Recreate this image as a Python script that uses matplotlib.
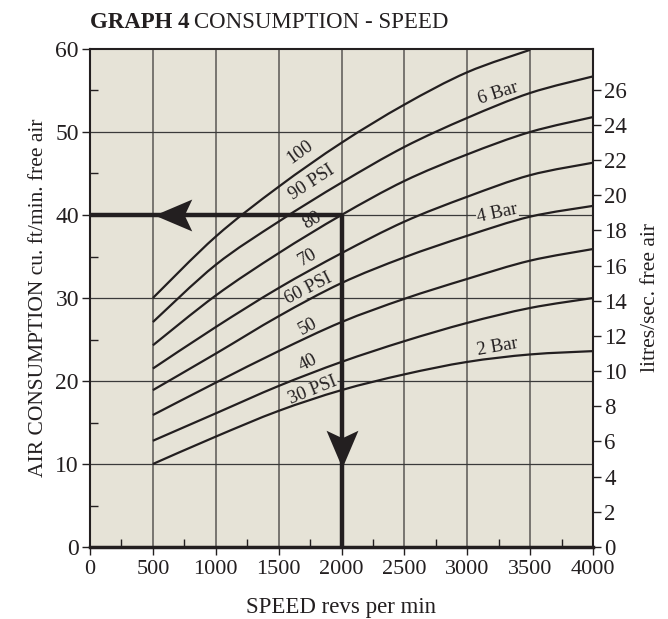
import matplotlib
matplotlib.use("Agg")
import matplotlib.pyplot as plt
from matplotlib.path import Path
from matplotlib.patches import PathPatch
import numpy as np

plt.rcParams['font.family'] = ['Liberation Serif', 'DejaVu Serif']

# speed in rev/min, air consumption in cu. ft/min free air
speeds = [500, 1000, 1500, 2000, 2500, 3000, 3500, 4000]
psi_100 = [30.0, 37.4, 43.4, 48.7, 53.3, 57.2, 59.9, np.nan]
psi_90 = [27.1, 34.0, 39.2, 43.9, 48.2, 51.7, 54.7, 56.7]
psi_80 = [24.3, 30.3, 35.4, 40.0, 44.1, 47.3, 50.0, 51.8]
psi_70 = [21.5, 26.5, 31.2, 35.4, 39.2, 42.2, 44.8, 46.3]
psi_60 = [18.9, 23.3, 27.8, 31.8, 34.9, 37.5, 39.8, 41.1]
psi_50 = [15.9, 19.8, 23.6, 27.1, 29.9, 32.3, 34.5, 35.9]
psi_40 = [12.8, 16.1, 19.4, 22.3, 24.8, 27.0, 28.8, 30.0]
psi_30 = [10.0, 13.3, 16.4, 18.9, 20.8, 22.3, 23.2, 23.6]
curves = [psi_100, psi_90, psi_80, psi_70, psi_60, psi_50, psi_40, psi_30]

# curve labels: text, speed, cfm, angle
curve_labels = [("100", 1670, 47.6, 36), ("90 PSI", 1760, 43.9, 33),
                ("80", 1765, 39.4, 30), ("70", 1734, 34.9, 30),
                ("60 PSI", 1734, 31.2, 27), ("50", 1734, 26.5, 28),
                ("40", 1734, 22.2, 27), ("30 PSI", 1775, 18.9, 22),
                ("6 Bar", 3245, 54.7, 18), ("4 Bar", 3237, 40.2, 12),
                ("2 Bar", 3237, 24.1, 10)]

# worked example: 2000 rpm needs 40 cfm
example_speed = 2000
example_flow = 40

cfm_to_ls = 0.4719
bg = "#e6e3d7"
ink = "#231f20"


def smooth_path(xs, ys):
    # catmull-rom through the read points, drawn as bezier segments
    pts = np.array([(x, y) for x, y in zip(xs, ys) if not np.isnan(y)])
    verts = [pts[0]]
    codes = [Path.MOVETO]
    n = len(pts)
    for i in range(n - 1):
        p0 = pts[max(i - 1, 0)]
        p1 = pts[i]
        p2 = pts[i + 1]
        p3 = pts[min(i + 2, n - 1)]
        verts += [p1 + (p2 - p0) / 6, p2 - (p3 - p1) / 6, p2]
        codes += [Path.CURVE4] * 3
    return Path(verts, codes)


fig = plt.figure(figsize=(6.68, 6.19), dpi=100)
ax = fig.add_axes([90 / 668, 1 - 547 / 619, 503 / 668, 498 / 619])
ax.set_facecolor(bg)
ax.set_xlim(0, 4000)
ax.set_ylim(0, 60)

for x in range(500, 4000, 500):
    ax.axvline(x, color="#777570", lw=1.4, zorder=1)
for y in range(10, 60, 10):
    ax.axhline(y, color="#3a3a3a", lw=0.9, zorder=1)

for c in curves:
    ax.add_patch(PathPatch(smooth_path(speeds, c), facecolor="none",
                           edgecolor=ink, lw=1.6, zorder=3))

for txt, sx, sy, rot in curve_labels:
    ax.text(sx, sy, txt, rotation=rot, rotation_mode="anchor", fontsize=13.5,
            ha="center", va="center", color=ink, zorder=2,
            bbox=dict(facecolor=bg, edgecolor="none", pad=0.3))

# example arrows
ax.plot([0, example_speed], [example_flow, example_flow], color=ink, lw=3.2,
        zorder=4, solid_capstyle="butt", clip_on=False)
ax.plot([example_speed, example_speed], [example_flow, 0], color=ink, lw=3.2,
        zorder=4, solid_capstyle="butt", clip_on=False)
head = Path([(-1, 0), (1, 0.85), (0.6, 0), (1, -0.85), (-1, 0)],
            [Path.MOVETO, Path.LINETO, Path.LINETO, Path.LINETO, Path.CLOSEPOLY])
down_head = Path([(0, -1), (0.85, 1), (0, 0.6), (-0.85, 1), (0, -1)],
                 [Path.MOVETO, Path.LINETO, Path.LINETO, Path.LINETO, Path.CLOSEPOLY])
ax.plot([660], [example_flow], marker=head, markersize=27, color=ink, mew=0, zorder=5)
ax.plot([example_speed], [11.8], marker=down_head, markersize=27, color=ink, mew=0, zorder=5)

ax.set_xticks(range(0, 4001, 500))
ax.set_xticks(range(250, 4000, 500), minor=True)
ax.set_yticks(range(0, 61, 10))
ax.set_yticks(range(5, 60, 10), minor=True)
ax.tick_params(axis="both", which="major", direction="out", length=6, width=1,
               color=ink, labelcolor=ink)
ax.tick_params(axis="x", which="major", labelsize=16, pad=3)
ax.tick_params(axis="y", which="major", labelsize=17, pad=2)
ax.tick_params(axis="both", which="minor", direction="in", length=6, width=1, color=ink)

for side in ["left", "right", "top"]:
    ax.spines[side].set_linewidth(1.5)
    ax.spines[side].set_color(ink)
ax.spines["bottom"].set_linewidth(2.5)
ax.spines["bottom"].set_color(ink)

ax.set_xlabel("SPEED revs per min", fontsize=16.5, color=ink, labelpad=13)
ax.set_ylabel("AIR CONSUMPTION cu. ft/min. free air", fontsize=15.5, color=ink, labelpad=5)

ax2 = ax.twinx()
ax2.set_ylim(0, 60 * cfm_to_ls)
ax2.set_yticks(range(0, 27, 2))
ax2.tick_params(axis="y", direction="out", length=6, width=1, color=ink,
                labelcolor=ink, labelsize=16.5, pad=2)
for s in ax2.spines.values():
    s.set_visible(False)
ax2.set_ylabel("litres/sec. free air", fontsize=15.5, color=ink, labelpad=10)

t1 = fig.text(90 / 668, 1 - 22 / 619, "GRAPH 4", fontsize=16.5, weight="bold",
              color=ink, va="center", ha="left")
fig.canvas.draw()
bb = t1.get_window_extent()
fig.text((bb.x1 + 4) / fig.bbox.width, 1 - 22 / 619, "CONSUMPTION - SPEED",
         fontsize=16.5, color=ink, va="center", ha="left")

fig.savefig("out.png", dpi=100, facecolor="white")
